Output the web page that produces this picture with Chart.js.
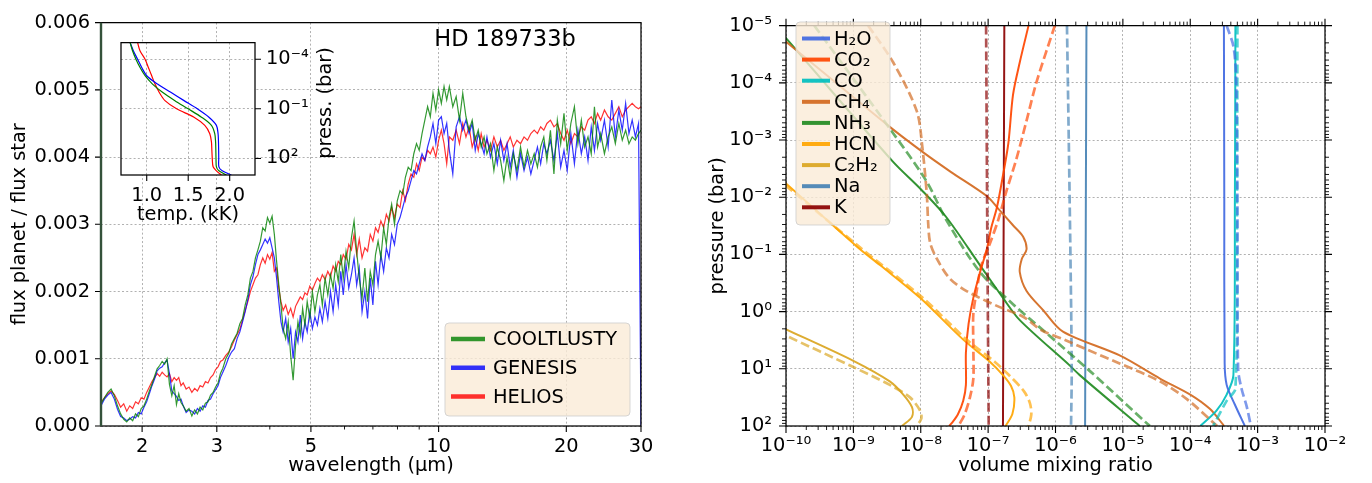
<!DOCTYPE html>
<html><head><meta charset="utf-8">
<script src="https://cdn.jsdelivr.net/npm/chart.js@4/dist/chart.umd.min.js"></script>
<style>
html,body{margin:0;padding:0;background:#fff;}
#wrap{position:relative;width:1372px;height:483px;overflow:hidden;background:#fff;}
canvas{position:absolute;}
</style></head><body>
<div id="wrap">
<canvas id="spec" width="680" height="483" style="left:0;top:0;width:680px;height:483px"></canvas>
<canvas id="inset" width="250" height="215" style="left:100px;top:20px;width:250px;height:215px"></canvas>
<canvas id="vmr" width="692" height="483" style="left:680px;top:0;width:692px;height:483px"></canvas>
</div>
<script>
// ---------------- LEFT PANEL: emission spectrum (flux in units of 1e-3) ----------------
const wavelength = [
1.60,1.63,1.66,1.69,1.72,1.75,1.78,1.81,1.84,1.87,
1.90,1.93,1.96,1.99,2.02,2.05,2.08,2.11,2.14,2.17,
2.20,2.23,2.26,2.29,2.32,2.35,2.38,2.41,2.44,2.47,
2.50,2.54,2.58,2.62,2.66,2.70,2.74,2.78,2.82,2.86,
2.90,2.94,2.98,3.02,3.06,3.10,3.15,3.20,3.25,3.30,
3.35,3.40,3.45,3.50,3.55,3.60,3.65,3.70,3.75,3.80,
3.85,3.90,3.95,4.00,4.05,4.10,4.15,4.20,4.25,4.30,
4.36,4.42,4.48,4.54,4.60,4.66,4.72,4.78,4.84,4.90,
4.97,5.04,5.11,5.18,5.25,5.32,5.40,5.48,5.56,5.64,
5.72,5.80,5.88,5.96,6.05,6.14,6.23,6.32,6.41,6.50,
6.60,6.70,6.80,6.90,7.00,7.10,7.20,7.31,7.42,7.53,
7.64,7.75,7.87,7.99,8.11,8.23,8.35,8.48,8.61,8.74,
8.87,9.00,9.14,9.28,9.42,9.56,9.70,9.85,10.0,10.15,
10.3,10.45,10.6,10.8,11.0,11.2,11.4,11.6,11.8,12.0,
12.2,12.4,12.6,12.8,13.0,13.25,13.5,13.75,14.0,14.25,
14.5,14.75,15.0,15.3,15.6,15.9,16.2,16.5,16.8,17.1,
17.4,17.7,18.0,18.35,18.7,19.05,19.4,19.75,20.1,20.5,
20.9,21.3,21.7,22.1,22.5,22.9,23.3,23.7,24.1,24.6,
25.1,25.6,26.1,26.6,27.1,27.6,28.1,28.6,29.1,29.6,
30.0];
const fluxCooltlusty = [
.33,.42,.50,.55,.45,.30,.18,.10,.06,.12,
.08,.18,.14,.26,.30,.40,.52,.62,.74,.85,
.90,.96,.92,1.00,.62,.45,.60,.32,.48,.35,
.30,.22,.26,.15,.24,.18,.28,.24,.34,.36,
.46,.50,.58,.64,.78,.86,1.00,1.08,1.22,1.30,
1.38,1.52,1.60,1.80,1.95,2.20,2.30,2.50,2.62,2.75,
2.95,2.90,3.10,3.02,3.12,2.85,2.45,2.10,1.80,1.45,
1.30,1.55,1.05,0.68,1.20,1.55,1.35,1.75,1.50,1.85,
1.60,2.00,1.70,1.95,2.10,1.80,2.20,1.95,2.25,2.05,
2.40,2.15,2.55,2.20,2.60,2.35,2.80,3.05,2.60,2.20,
1.90,2.35,1.85,2.30,2.10,2.55,2.75,2.50,2.95,2.70,
3.10,3.30,3.00,3.35,3.50,3.45,3.70,3.85,3.80,4.05,
4.20,4.10,4.35,4.55,4.75,4.60,4.95,4.70,5.00,4.80,
5.05,4.85,5.05,4.75,4.90,4.55,4.95,4.60,4.40,4.55,
4.25,4.40,4.15,4.30,4.05,4.20,3.80,4.15,3.95,3.65,
4.00,3.70,4.05,3.80,4.15,3.85,4.10,3.90,4.05,3.85,
4.15,4.30,3.95,4.40,3.75,4.55,4.20,4.65,4.10,4.50,
4.75,4.20,4.55,4.15,4.30,4.05,4.75,4.15,4.35,4.05,
4.30,4.45,4.20,4.50,4.25,4.40,4.20,4.30,4.25,4.35,
4.40];
const fluxGenesis = [
.30,.40,.46,.50,.40,.25,.14,.12,.08,.10,
.14,.12,.20,.18,.28,.36,.48,.60,.70,.82,
.86,.88,.94,.98,.78,.52,.48,.44,.38,.40,
.30,.20,.24,.22,.18,.26,.22,.30,.28,.38,
.40,.48,.54,.60,.72,.80,.90,1.02,1.10,1.15,
1.30,1.40,1.55,1.70,1.88,2.10,2.22,2.40,2.55,2.62,
2.70,2.78,2.72,2.80,2.65,2.50,2.20,1.85,1.55,1.40,
1.60,1.25,1.45,1.00,1.40,1.25,1.65,1.30,1.55,1.40,
1.70,1.45,1.62,1.50,1.75,1.55,1.85,1.60,2.00,1.70,
2.10,1.80,2.30,1.95,2.40,2.05,2.25,2.50,2.10,2.35,
1.70,2.00,1.60,2.20,1.80,2.45,2.10,2.55,2.30,2.65,
2.50,2.85,2.70,3.00,3.10,3.25,3.40,3.50,3.65,3.80,
3.75,3.90,4.05,3.95,4.15,4.30,4.50,4.20,4.55,4.60,
4.35,4.50,4.10,3.75,4.45,4.60,4.40,4.55,4.35,4.50,
4.10,4.35,4.20,4.05,4.30,4.00,4.20,3.90,4.25,3.95,
4.20,3.85,4.10,3.70,4.05,3.80,4.00,3.75,3.95,4.15,
3.90,4.20,4.05,4.25,3.95,4.35,3.85,4.10,3.80,4.35,
3.90,4.40,4.05,4.30,3.95,4.45,4.10,4.50,4.25,4.55,
4.15,4.85,4.30,4.70,4.40,4.80,4.35,4.55,4.30,4.50,
0.00];
const fluxHelios = [
.35,.42,.48,.52,.47,.38,.28,.33,.22,.30,
.26,.36,.33,.42,.40,.50,.58,.66,.72,.78,
.74,.80,.76,.73,.78,.66,.72,.68,.72,.60,
.64,.55,.58,.50,.56,.52,.60,.58,.66,.64,
.72,.76,.84,.88,.96,.98,1.05,1.10,1.18,1.28,
1.36,1.44,1.58,1.72,1.85,2.00,2.10,2.20,2.25,2.40,
2.50,2.42,2.55,2.48,2.58,2.30,2.35,2.05,1.85,1.72,
1.80,1.66,1.75,1.62,1.78,1.85,1.92,1.88,1.98,1.95,
2.08,2.02,2.12,2.20,2.15,2.25,2.18,2.30,2.22,2.38,
2.30,2.45,2.40,2.55,2.48,2.70,2.62,2.85,2.55,2.78,
2.50,2.65,2.60,2.85,2.75,2.95,2.88,3.05,2.95,3.15,
3.05,3.25,3.10,3.30,3.25,3.50,3.35,3.60,3.75,3.70,
3.90,3.80,4.00,3.95,4.10,4.05,4.15,4.00,4.25,4.40,
4.20,3.90,4.30,4.25,4.40,4.20,4.50,4.30,4.45,4.15,
4.30,4.10,4.35,4.15,4.25,4.10,4.30,4.15,4.25,4.10,
4.20,4.30,4.15,4.25,4.20,4.30,4.25,4.35,4.40,4.35,
4.45,4.40,4.50,4.55,4.45,4.50,4.35,4.25,4.40,4.20,
4.35,4.30,4.45,4.40,4.55,4.60,4.50,4.65,4.55,4.70,
4.60,4.55,4.65,4.75,4.60,4.70,4.75,4.80,4.75,4.72,
4.75];
const specNames = ['COOLTLUSTY', 'GENESIS', 'HELIOS'];
const specXTicks = [2, 3, 5, 10, 20, 30];
const specXTickLabels = ['2', '3', '5', '10', '20', '30'];
const specXMinorTicks = [4, 6, 7, 8, 9];
const specYTicks = [0, 1, 2, 3, 4, 5, 6];
const specYTickLabels = ['0.000', '0.001', '0.002', '0.003', '0.004', '0.005', '0.006'];

// ---------------- INSET: temperature-pressure profiles ----------------
const tpPressure = [1e-5, 3.2e-5, 1e-4, 3.2e-4, 1e-3, 3.2e-3, 1e-2, 3.2e-2, 0.1, 0.32, 1, 3.2, 10, 32, 100, 320, 560, 1000];
const tempCooltlusty = [0.80,0.83,0.87,0.92,0.98,1.07,1.19,1.34,1.50,1.66,1.78,1.82,1.83,1.833,1.835,1.84,1.87,1.96];
const tempGenesis    = [0.80,0.84,0.89,0.94,1.00,1.13,1.29,1.45,1.61,1.75,1.84,1.86,1.865,1.867,1.868,1.87,1.91,2.02];
const tempHelios     = [0.89,0.92,0.98,1.02,1.06,1.10,1.15,1.22,1.36,1.57,1.70,1.76,1.78,1.785,1.79,1.80,1.84,1.90];
const insetXTicks = [1.0, 1.5, 2.0];
const insetXTickLabels = ['1.0', '1.5', '2.0'];
const insetYTicks = [1e-4, 1e-1, 1e2];
const insetYTickLabels = ['10⁻⁴', '10⁻¹', '10²'];

// ---------------- RIGHT PANEL: volume mixing ratios ----------------
const h2oSolidP = [1e-5, 1e-2, 7.94, 19.1, 41.7, 100];
const h2oSolidV = [3.16e-4, 3.2e-4, 3.24e-4, 3.47e-4, 4.57e-4, 6.46e-4];
const h2oDashP = [1e-5, 2.29e-5, 8.32e-5, 1e-2, 10, 21.9, 46.8, 100];
const h2oDashV = [3.47e-4, 4.37e-4, 4.79e-4, 5.0e-4, 5.13e-4, 5.75e-4, 6.92e-4, 7.94e-4];
const co2SolidP = [1e-5, 4.37e-5, 1.62e-4, 1.12e-3, 4.17e-3, 1.51e-2, 3.31e-2, 8.13e-2, 0.204, 0.575, 1.62, 5.25, 19.1, 36.3, 63.1, 89.1, 100];
const co2SolidV = [3.98e-7, 2.95e-7, 2.34e-7, 2.0e-7, 1.66e-7, 1.35e-7, 1.12e-7, 9.55e-8, 7.59e-8, 6.03e-8, 5.13e-8, 4.68e-8, 4.68e-8, 4.27e-8, 3.55e-8, 2.88e-8, 2.63e-8];
const co2DashP = [1e-5, 9.55e-5, 4.57e-4, 2.14e-3, 7.94e-3, 2.51e-2, 6.31e-2, 0.155, 0.437, 1.1, 3.98, 14.8, 31.6, 63.1, 100];
const co2DashV = [9.77e-7, 5.25e-7, 3.72e-7, 2.63e-7, 1.86e-7, 1.41e-7, 1.07e-7, 7.94e-8, 6.76e-8, 6.03e-8, 6.03e-8, 6.03e-8, 5.37e-8, 4.47e-8, 3.63e-8];
const coSolidP = [1e-5, 1e-2, 12.9, 28.2, 53.7, 100];
const coSolidV = [4.68e-4, 4.6e-4, 4.37e-4, 3.47e-4, 2.45e-4, 1.41e-4];
const coDashP = [1e-5, 1e-2, 21.9, 36.3, 100];
const coDashV = [5.01e-4, 4.95e-4, 4.68e-4, 3.47e-4, 2.19e-4];
const ch4SolidP = [1e-5, 1.91e-5, 5.89e-4, 1.66e-3, 3.63e-3, 9.55e-3, 1.58e-2, 3.09e-2, 4.9e-2, 8.13e-2, 0.12, 0.204, 0.437, 0.955, 2.24, 5.89, 14.8, 28.2, 50.1, 95.5, 100];
const ch4SolidV = [5.01e-11, 1e-10, 3.47e-9, 1.1e-8, 2.82e-8, 9.55e-8, 1.41e-7, 2.34e-7, 3.31e-7, 3.72e-7, 3.16e-7, 2.95e-7, 3.72e-7, 6.61e-7, 1.29e-6, 9.12e-6, 3.55e-5, 1e-4, 1.95e-4, 3.09e-4, 3.16e-4];
const ch4DashP = [1e-5, 4.37e-5, 3.09e-4, 1.26e-3, 8.91e-3, 2.88e-2, 6.31e-2, 0.12, 0.263, 0.437, 0.794, 1.23, 2.14, 3.16, 4.57, 8.13, 16.6, 33.9, 100];
const ch4DashV = [1.66e-9, 3.89e-9, 8.71e-9, 1.05e-8, 1.23e-8, 1.29e-8, 1.38e-8, 1.74e-8, 2.69e-8, 4.79e-8, 1.35e-7, 3.31e-7, 6.31e-7, 1.41e-6, 2.88e-6, 9.12e-6, 3.55e-5, 8.91e-5, 2.51e-4];
const nh3SolidP = [1e-5, 1.66e-5, 2.34e-3, 7.41e-3, 2.24e-2, 0.155, 0.575, 1.41, 8.71, 12.9, 95.5, 100];
const nh3SolidV = [6.6e-11, 1e-10, 3.8e-9, 1.02e-8, 2.4e-8, 7.59e-8, 1.66e-7, 2.95e-7, 1.62e-6, 2.29e-6, 1.7e-5, 1.78e-5];
const nh3DashP = [1e-5, 7.59e-4, 5.37e-3, 2.51e-2, 0.204, 0.741, 2.4, 11.2, 95.5, 100];
const nh3DashV = [2.63e-10, 3.89e-9, 1.23e-8, 2.4e-8, 7.59e-8, 2.34e-7, 7.41e-7, 3.31e-6, 2.4e-5, 2.51e-5];
const hcnSolidP = [2.82e-3, 5.75e-3, 7.24e-2, 0.155, 0.575, 3.09, 7.59, 12.9, 20.0, 31.6, 61.7, 100];
const hcnSolidV = [5.01e-11, 1e-10, 1.12e-9, 2.51e-9, 9.77e-9, 4.27e-8, 1.07e-7, 1.66e-7, 2.19e-7, 2.45e-7, 2.29e-7, 1.82e-7];
const hcnDashP = [3.16e-3, 6.31e-3, 7.24e-2, 0.575, 3.09, 7.59, 12.6, 24.5, 39.8, 63.1, 100];
const hcnDashV = [5.01e-11, 1e-10, 1.2e-9, 1.07e-8, 4.79e-8, 1.26e-7, 2.0e-7, 3.39e-7, 4.17e-7, 4.37e-7, 3.98e-7];
const c2h2SolidP = [1.41, 2.04, 7.24, 16.6, 28.2, 46.8, 69.2, 100];
const c2h2SolidV = [5.01e-11, 1e-10, 1e-9, 3.47e-9, 5.5e-9, 7.41e-9, 7.41e-9, 5.25e-9];
const c2h2DashP = [1.78, 2.63, 9.33, 19.1, 31.6, 53.7, 74.1, 100];
const c2h2DashV = [5.01e-11, 1e-10, 1e-9, 3.47e-9, 6.92e-9, 9.77e-9, 1.02e-8, 8.71e-9];
const naSolidP = [1e-5, 100];
const naSolidV = [2.88e-6, 2.75e-6];
const naDashP = [1e-5, 1e-2, 10, 100];
const naDashV = [1.48e-6, 1.62e-6, 1.74e-6, 1.7e-6];
const kSolidP = [1e-5, 100];
const kSolidV = [1.74e-7, 1.66e-7];
const kDashP = [1e-5, 0.1, 100];
const kDashV = [9.33e-8, 9.77e-8, 1.02e-7];
const speciesLabels = ['H₂O', 'CO₂', 'CO', 'CH₄', 'NH₃', 'HCN', 'C₂H₂', 'Na', 'K'];
const vmrXTicks = [1e-10, 1e-9, 1e-8, 1e-7, 1e-6, 1e-5, 1e-4, 1e-3, 1e-2];
const vmrXTickLabels = ['10⁻¹⁰', '10⁻⁹', '10⁻⁸', '10⁻⁷', '10⁻⁶', '10⁻⁵', '10⁻⁴', '10⁻³', '10⁻²'];
const vmrYTicks = [1e-5, 1e-4, 1e-3, 1e-2, 1e-1, 1e0, 1e1, 1e2];
const vmrYTickLabels = ['10⁻⁵', '10⁻⁴', '10⁻³', '10⁻²', '10⁻¹', '10⁰', '10¹', '10²'];

// ---------------- styling / helpers ----------------
const FAM = "'DejaVu Sans', 'Liberation Sans', sans-serif";
const FS = 19.4;
Chart.defaults.font.family = FAM;
Chart.defaults.font.size = FS;
Chart.defaults.color = '#000';
Chart.defaults.animation = false;

const RGB = {
  H2O: '65,105,225', CO2: '255,69,0', CO: '0,191,191', CH4: '210,105,30',
  NH3: '34,139,34', HCN: '255,165,0', C2H2: '218,165,32', Na: '70,130,180', K: '139,0,0'
};
const speciesKeys = ['H2O', 'CO2', 'CO', 'CH4', 'NH3', 'HCN', 'C2H2', 'Na', 'K'];

function gridOpts() { return { color: 'rgba(140,140,140,0.85)', lineWidth: 0.8, drawTicks: false }; }
function borderOpts() { return { display: false, dash: [2, 2.2] }; }
function setTicks(values) { return s => { s.ticks = values.map(v => ({ value: v })); }; }
function labelFrom(values, labels) { return (v) => { const i = values.findIndex(t => Math.abs(t - v) <= Math.abs(t) * 1e-6 + 1e-12); return i >= 0 ? labels[i] : ''; }; }
function logMinor(lo, hi) { const out = []; for (let e = lo; e < hi; e++) for (let k = 2; k <= 9; k++) out.push(k * Math.pow(10, e)); return out; }

const mplPlugin = {
  id: 'mpl',
  beforeDraw(chart, args, o) {
    if (!o.fillArea) return;
    const a = chart.chartArea, c = chart.ctx;
    c.save(); c.fillStyle = '#fff'; c.fillRect(a.left, a.top, a.right - a.left, a.bottom - a.top); c.restore();
  },
  afterDraw(chart, args, o) {
    const c = chart.ctx, a = chart.chartArea;
    c.save();
    (o.ticks || []).forEach(t => {
      const s = chart.scales[t.scale];
      c.strokeStyle = '#000'; c.lineWidth = t.w || 1.1;
      c.beginPath();
      t.values.forEach(v => {
        const p = s.getPixelForValue(v);
        if (t.side === 'bottom') { c.moveTo(p, a.bottom); c.lineTo(p, a.bottom + t.len); }
        else if (t.side === 'top') { c.moveTo(p, a.top); c.lineTo(p, a.top - t.len); }
        else if (t.side === 'left') { c.moveTo(a.left, p); c.lineTo(a.left - t.len, p); }
        else { c.moveTo(a.right, p); c.lineTo(a.right + t.len, p); }
      });
      c.stroke();
    });
    c.lineWidth = 1.25; c.strokeStyle = '#000';
    c.strokeRect(a.left, a.top, a.right - a.left, a.bottom - a.top);
    if (o.leftSpine) {
      c.strokeStyle = o.leftSpine.color; c.lineWidth = o.leftSpine.width;
      c.beginPath(); c.moveTo(a.left, a.top); c.lineTo(a.left, a.bottom); c.stroke();
    }
    (o.texts || []).forEach(t => {
      c.save();
      c.font = t.font; c.fillStyle = '#000'; c.textAlign = 'center'; c.textBaseline = 'middle';
      c.translate(t.x, t.y); if (t.rot) c.rotate(t.rot);
      c.fillText(t.text, 0, 0);
      c.restore();
    });
    if (o.legend) {
      const L = o.legend;
      const [bx, by, bw, bh] = L.box;
      c.beginPath();
      c.roundRect(bx, by, bw, bh, 4);
      c.fillStyle = 'rgba(250,235,215,0.8)'; c.fill();
      c.strokeStyle = 'rgba(204,204,204,0.8)'; c.lineWidth = 1; c.stroke();
      c.font = L.font; c.textAlign = 'left'; c.textBaseline = 'middle';
      L.items.forEach((it, i) => {
        const y = L.y0 + i * L.dy;
        c.strokeStyle = it.color; c.lineWidth = L.lw; c.lineCap = 'butt';
        c.beginPath(); c.moveTo(L.x0, y); c.lineTo(L.x1, y); c.stroke();
        c.fillStyle = '#000'; c.fillText(it.label, L.tx, y + 1);
      });
    }
    c.restore();
  }
};

// ---------------- LEFT chart ----------------
const specColors = ['rgba(0,128,0,0.8)', 'rgba(0,0,255,0.8)', 'rgba(255,0,0,0.8)'];
const specSeries = [fluxCooltlusty, fluxGenesis, fluxHelios];
new Chart(document.getElementById('spec'), {
  type: 'scatter',
  data: {
    datasets: specSeries.map((arr, k) => ({
      label: specNames[k],
      data: wavelength.map((w, i) => ({ x: w, y: arr[i] })),
      showLine: true, pointRadius: 0, borderWidth: 1.2, borderColor: specColors[k],
      tension: 0, clip: 0
    }))
  },
  options: {
    responsive: false, events: [],
    layout: { padding: { left: 0, right: 39, top: 12, bottom: 0 } },
    plugins: {
      legend: { display: false }, tooltip: { enabled: false },
      mpl: {
        ticks: [
          { scale: 'x', side: 'bottom', values: specXTicks, len: 6 },
          { scale: 'x', side: 'bottom', values: specXMinorTicks, len: 3.5, w: 0.9 },
          { scale: 'y', side: 'left', values: specYTicks, len: 6 }
        ],
        leftSpine: { color: 'rgb(52,82,58)', width: 2.4 },
        texts: [{ text: 'HD 189733b', x: 505, y: 40, font: "22.5px " + FAM }],
        legend: {
          box: [445, 323, 185, 93], x0: 451, x1: 485, tx: 493, y0: 339, dy: 28.8, lw: 4.5,
          font: FS + "px " + FAM,
          items: specNames.map((n, k) => ({ label: n, color: specColors[k] }))
        }
      }
    },
    scales: {
      x: {
        type: 'logarithmic', position: 'bottom', min: 1.6, max: 30,
        afterBuildTicks: setTicks(specXTicks),
        afterFit: s => { s.height = 57; },
        ticks: { autoSkip: false, maxRotation: 0, padding: 9, callback: labelFrom(specXTicks, specXTickLabels) },
        grid: gridOpts(), border: borderOpts(),
        title: { display: true, text: 'wavelength (μm)', padding: { top: 0, bottom: 5 } }
      },
      y: {
        type: 'linear', position: 'left', min: 0, max: 6,
        afterBuildTicks: setTicks(specYTicks),
        afterFit: s => { s.width = 101; },
        ticks: { autoSkip: false, padding: 11, callback: labelFrom(specYTicks, specYTickLabels) },
        grid: gridOpts(), border: borderOpts(),
        title: { display: true, text: 'flux planet / flux star', padding: { top: 8, bottom: 0 } }
      }
    }
  },
  plugins: [mplPlugin]
});

// ---------------- INSET chart ----------------
const tpColors = ['rgb(0,128,0)', 'rgb(0,0,255)', 'rgb(255,0,0)'];
const tpSeries = [tempCooltlusty, tempGenesis, tempHelios];
new Chart(document.getElementById('inset'), {
  type: 'scatter',
  data: {
    datasets: tpSeries.map((arr, k) => ({
      label: specNames[k],
      data: tpPressure.map((p, i) => ({ x: arr[i], y: p })),
      showLine: true, pointRadius: 0, borderWidth: 1.2, borderColor: tpColors[k],
      tension: 0.3, clip: 0
    }))
  },
  options: {
    responsive: false, events: [],
    layout: { padding: { left: 21, top: 11, right: 0, bottom: 0 } },
    elements: { line: { capBezierPoints: false } },
    plugins: {
      legend: { display: false }, tooltip: { enabled: false },
      mpl: {
        fillArea: true,
        ticks: [
          { scale: 'x', side: 'bottom', values: insetXTicks, len: 6 },
          { scale: 'y', side: 'right', values: insetYTicks, len: 6 }
        ],
        texts: [{ text: 'press. (bar)', x: 226, y: 83, font: FS + "px " + FAM, rot: -Math.PI / 2 }]
      }
    },
    scales: {
      x: {
        type: 'linear', position: 'bottom', min: 0.69, max: 2.305,
        afterBuildTicks: setTicks(insetXTicks),
        afterFit: s => { s.height = 60; },
        ticks: { autoSkip: false, maxRotation: 0, padding: 9, callback: labelFrom(insetXTicks, insetXTickLabels) },
        grid: gridOpts(), border: borderOpts(),
        title: { display: true, text: 'temp. (kK)', padding: { top: 0, bottom: 8 } }
      },
      y: {
        type: 'logarithmic', position: 'right', reverse: true, min: 1e-5, max: 1e3,
        afterBuildTicks: setTicks(insetYTicks),
        afterFit: s => { s.width = 95; },
        ticks: { autoSkip: false, padding: 11, callback: labelFrom(insetYTicks, insetYTickLabels) },
        grid: gridOpts(), border: borderOpts()
      }
    }
  },
  plugins: [mplPlugin]
});

// ---------------- RIGHT chart ----------------
function curve(key, P, V, dashed) {
  return {
    label: key + (dashed ? ' (dashed)' : ''),
    data: P.map((p, i) => ({ x: V[i], y: p })),
    showLine: true, pointRadius: 0,
    borderColor: 'rgba(' + RGB[key] + ',' + (dashed ? 0.68 : 0.92) + ')',
    borderWidth: dashed ? 2.7 : 2, borderDash: dashed ? [9, 4] : [],
    tension: 0.3, clip: 0
  };
}
const vmrDatasets = [
  curve('H2O', h2oDashP, h2oDashV, true), curve('CO2', co2DashP, co2DashV, true),
  curve('CO', coDashP, coDashV, true), curve('CH4', ch4DashP, ch4DashV, true),
  curve('NH3', nh3DashP, nh3DashV, true), curve('HCN', hcnDashP, hcnDashV, true),
  curve('C2H2', c2h2DashP, c2h2DashV, true), curve('Na', naDashP, naDashV, true),
  curve('K', kDashP, kDashV, true),
  curve('H2O', h2oSolidP, h2oSolidV, false), curve('CO2', co2SolidP, co2SolidV, false),
  curve('CO', coSolidP, coSolidV, false), curve('CH4', ch4SolidP, ch4SolidV, false),
  curve('NH3', nh3SolidP, nh3SolidV, false), curve('HCN', hcnSolidP, hcnSolidV, false),
  curve('C2H2', c2h2SolidP, c2h2SolidV, false), curve('Na', naSolidP, naSolidV, false),
  curve('K', kSolidP, kSolidV, false)
];
const vmrXMinor = logMinor(-10, -2);
const vmrYMinor = logMinor(-5, 2);
new Chart(document.getElementById('vmr'), {
  type: 'scatter',
  data: { datasets: vmrDatasets },
  options: {
    responsive: false, events: [],
    layout: { padding: { left: 0, right: 47, top: 12, bottom: 0 } },
    elements: { line: { capBezierPoints: false } },
    plugins: {
      legend: { display: false }, tooltip: { enabled: false },
      mpl: {
        ticks: [
          { scale: 'x', side: 'bottom', values: vmrXTicks, len: 7 },
          { scale: 'x', side: 'top', values: vmrXTicks, len: 7 },
          { scale: 'x', side: 'bottom', values: vmrXMinor, len: 4, w: 0.9 },
          { scale: 'x', side: 'top', values: vmrXMinor, len: 4, w: 0.9 },
          { scale: 'y', side: 'left', values: vmrYTicks, len: 7 },
          { scale: 'y', side: 'right', values: vmrYTicks, len: 7 },
          { scale: 'y', side: 'left', values: vmrYMinor, len: 4, w: 0.9 },
          { scale: 'y', side: 'right', values: vmrYMinor, len: 4, w: 0.9 }
        ],
        legend: {
          box: [116, 22, 94, 203], x0: 122, x1: 150, tx: 154, y0: 38.5, dy: 21.1, lw: 4,
          font: FS + "px " + FAM,
          items: speciesKeys.map((k, i) => ({ label: speciesLabels[i], color: 'rgba(' + RGB[k] + ',0.92)' }))
        }
      }
    },
    scales: {
      x: {
        type: 'logarithmic', position: 'bottom', min: 1e-10, max: 1e-2,
        afterBuildTicks: setTicks(vmrXTicks),
        afterFit: s => { s.height = 57; },
        ticks: { autoSkip: false, maxRotation: 0, padding: 8, callback: labelFrom(vmrXTicks, vmrXTickLabels) },
        grid: gridOpts(), border: borderOpts(),
        title: { display: true, text: 'volume mixing ratio', padding: { top: 0, bottom: 5 } }
      },
      y: {
        type: 'logarithmic', position: 'left', reverse: true, min: 1e-5, max: 1e2,
        afterBuildTicks: setTicks(vmrYTicks),
        afterFit: s => { s.width = 106; },
        ticks: { autoSkip: false, padding: 14, callback: labelFrom(vmrYTicks, vmrYTickLabels) },
        grid: gridOpts(), border: borderOpts(),
        title: { display: true, text: 'pressure (bar)', padding: { top: 26, bottom: 0 } }
      }
    }
  },
  plugins: [mplPlugin]
});
</script>
</body></html>
